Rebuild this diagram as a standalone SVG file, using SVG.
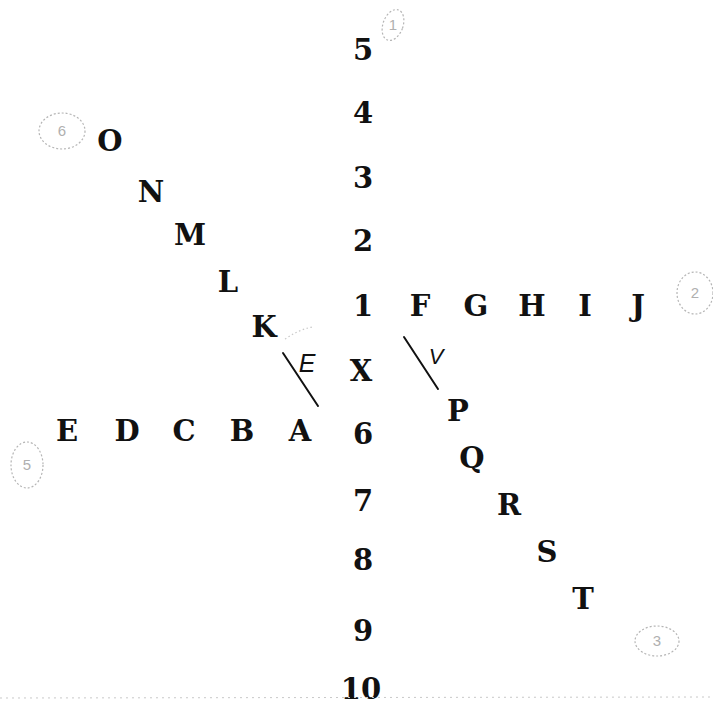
<svg xmlns="http://www.w3.org/2000/svg" width="713" height="705" viewBox="0 0 713 705">
<style>
.t{font-family:"DejaVu Serif","Liberation Serif",serif;font-weight:bold;font-size:29px;fill:#111;text-anchor:middle}
.h{font-family:"Liberation Sans","DejaVu Sans",sans-serif;font-style:italic;fill:#111;text-anchor:middle}
.c{fill:none;stroke:#b5b5b5;stroke-width:1.2;stroke-dasharray:2 2}
.cn{font-family:"Liberation Sans","DejaVu Sans",sans-serif;font-size:15px;fill:#b0b0b0;text-anchor:middle}
.ln{stroke:#111;stroke-width:2;stroke-linecap:round}
</style>
<rect width="713" height="705" fill="#fff"/>
<g id="column">
<text class="t" x="363" y="60">5</text>
<text class="t" x="363" y="123">4</text>
<text class="t" x="363" y="188">3</text>
<text class="t" x="363" y="251">2</text>
<text class="t" x="363" y="316">1</text>
<text class="t" x="361" y="381">X</text>
<text class="t" x="363" y="444">6</text>
<text class="t" x="363" y="511">7</text>
<text class="t" x="363" y="570">8</text>
<text class="t" x="363" y="641">9</text>
<text class="t" x="361" y="699">10</text>
</g>
<g id="row-right">
<text class="t" x="420" y="316">F</text>
<text class="t" x="476" y="316">G</text>
<text class="t" x="532" y="316">H</text>
<text class="t" x="585" y="316">I</text>
<text class="t" x="638" y="316">J</text>
</g>
<g id="row-left">
<text class="t" x="67" y="441">E</text>
<text class="t" x="127" y="441">D</text>
<text class="t" x="184" y="441">C</text>
<text class="t" x="242" y="441">B</text>
<text class="t" x="300" y="441">A</text>
</g>
<g id="diag-left">
<text class="t" x="110" y="151">O</text>
<text class="t" x="151" y="202">N</text>
<text class="t" x="190" y="245">M</text>
<text class="t" x="228" y="292">L</text>
<text class="t" x="264" y="337">K</text>
</g>
<g id="diag-right">
<text class="t" x="458" y="421">P</text>
<text class="t" x="472" y="468">Q</text>
<text class="t" x="509" y="515">R</text>
<text class="t" x="547" y="562">S</text>
<text class="t" x="583" y="609">T</text>
</g>
<g id="connectors">
<line class="ln" x1="283" y1="353" x2="318" y2="406"/>
<line class="ln" x1="404" y1="337" x2="438" y2="389"/>
<path d="M285 339 Q298 330 312 327" fill="none" stroke="#c8c8c8" stroke-width="1.2" stroke-dasharray="1.5 2.5"/>
<line x1="0" y1="698" x2="713" y2="697" stroke="#c8c8c8" stroke-width="1" stroke-dasharray="2 4"/>
</g>
<g id="marks">
<text class="h" x="307" y="372" font-size="25">E</text>
<text class="h" x="436" y="364" font-size="22">V</text>
</g>
<g id="circled">
<g id="c1"><ellipse class="c" cx="393" cy="25" rx="10" ry="16" transform="rotate(20 393 25)"/><text class="cn" x="393" y="30">1</text></g>
<g id="c6"><ellipse class="c" cx="62" cy="131" rx="23" ry="18"/><text class="cn" x="62" y="136">6</text></g>
<g id="c2"><ellipse class="c" cx="695" cy="293" rx="18" ry="21"/><text class="cn" x="695" y="298">2</text></g>
<g id="c5"><ellipse class="c" cx="27" cy="465" rx="16" ry="23"/><text class="cn" x="27" y="470">5</text></g>
<g id="c3"><ellipse class="c" cx="657" cy="641" rx="22" ry="15"/><text class="cn" x="657" y="646">3</text></g>
</g>
</svg>
